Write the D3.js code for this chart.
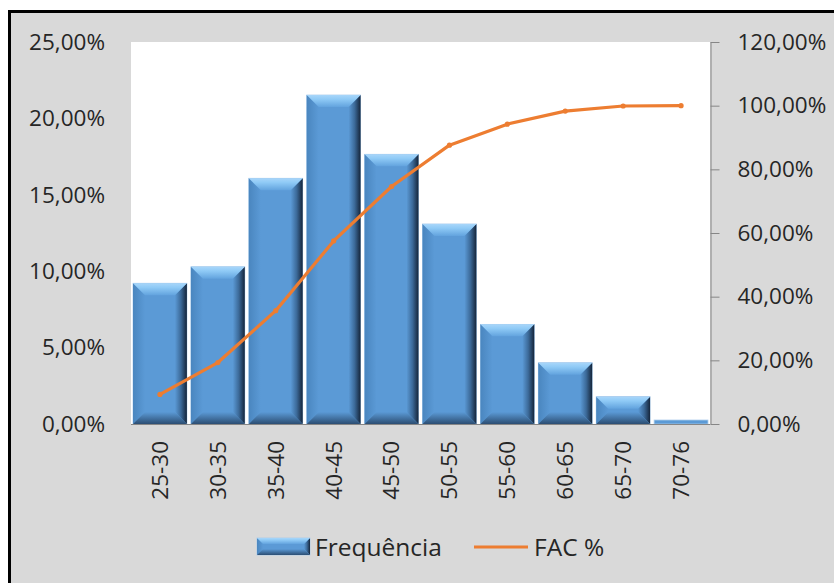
<!DOCTYPE html>
<html><head><meta charset="utf-8">
<script src="https://cdn.jsdelivr.net/npm/d3@7"></script>
<style>html,body{margin:0;padding:0;background:#fff;}svg{display:block;}</style>
</head><body>
<svg id="c" width="834" height="583"></svg>
<script>
const categories = ['25-30','30-35','35-40','40-45','45-50','50-55','55-60','60-65','65-70','70-76'];
const frequencia = [9.21, 10.29, 16.08, 21.53, 17.65, 13.09, 6.52, 4.01, 1.79, 0.26];
const facPct = [9.3, 19.3, 35.6, 57.5, 74.6, 87.6, 94.2, 98.3, 99.9, 100.0];
const leftTicks = [0, 5, 10, 15, 20, 25];
const rightTicks = [0, 20, 40, 60, 80, 100, 120];
const seriesNames = ['Frequência', 'FAC %'];

const svg = d3.select('#c');
const FONT = "'Open Sans', sans-serif";
const TXT = '#262626';
const W = 834, H = 583;
const P = {l: 131, r: 710, t: 42, b: 424};

// defs / gradients
const defs = svg.append('defs');
function lg(id, x2, y2, stops){
  const g = defs.append('linearGradient').attr('id', id).attr('x1',0).attr('y1',0).attr('x2',x2).attr('y2',y2);
  stops.forEach(s => g.append('stop').attr('offset', s[0]).attr('stop-color', s[1]));
}
lg('gTop', 0, 1, [[0,'#a8d6fa'],[0.35,'#8fcaf6'],[1,'#62a3de']]);
lg('gLeft', 1, 0, [[0,'#4a86bf'],[1,'#5b9ad6']]);
lg('gRight', 1, 0, [[0,'#5b9ad6'],[0.5,'#3c6a99'],[1,'#15253a']]);
lg('gBot', 0, 1, [[0,'#5b9ad6'],[1,'#2c4e73']]);

// background frame
svg.append('rect').attr('x', 9.5).attr('y', 11.5).attr('width', W + 20).attr('height', H + 20)
  .attr('fill', '#d9d9d9').attr('stroke', '#000').attr('stroke-width', 3);
svg.append('rect').attr('x', P.l).attr('y', P.t).attr('width', P.r - P.l).attr('height', P.b - P.t).attr('fill', '#fff');

const x = d3.scaleBand().domain(categories).range([P.l, P.r]).paddingInner(0.07).paddingOuter(0.035);
const yL = d3.scaleLinear().domain([0, 25]).range([P.b, P.t]);
const yR = d3.scaleLinear().domain([0, 120]).range([P.b, P.t]);
const fmt = d => d.toFixed(2).replace('.', ',') + '%';

function bevelBar(g, bx, by, bw, bh, bmax){
  g.append('rect').attr('x', bx).attr('y', by).attr('width', bw).attr('height', bh)
    .attr('fill', '#5b9ad6').attr('stroke', '#a9cbeb').attr('stroke-width', 0.8);
  const b = Math.min(bmax, bh / 2, bw / 4);
  if (bh < 6) return;
  const poly = (pts, fill) => g.append('polygon').attr('points', pts.map(p => p.join(',')).join(' ')).attr('fill', fill);
  poly([[bx,by],[bx+b,by+b],[bx+b,by+bh-b],[bx,by+bh]], 'url(#gLeft)');
  poly([[bx+bw,by],[bx+bw,by+bh],[bx+bw-b,by+bh-b],[bx+bw-b,by+b]], 'url(#gRight)');
  poly([[bx,by+bh],[bx+bw,by+bh],[bx+bw-b,by+bh-b],[bx+b,by+bh-b]], 'url(#gBot)');
  poly([[bx,by],[bx+bw,by],[bx+bw-b,by+b],[bx+b,by+b]], 'url(#gTop)');
}

// bars
const barsG = svg.append('g');
categories.forEach((c, i) => {
  const v = frequencia[i];
  const gg = barsG.append('g');
  bevelBar(gg, x(c), yL(v), x.bandwidth(), yL(0) - yL(v), 12);
});

// bottom axis line
svg.append('line').attr('x1', P.l).attr('x2', P.r).attr('y1', P.b + 0.5).attr('y2', P.b + 0.5)
  .attr('stroke', '#868686').attr('stroke-width', 1);

// left axis
const ax = svg.append('g').attr('transform', `translate(${P.l},0)`)
  .call(d3.axisLeft(yL).tickValues(leftTicks).tickFormat(fmt).tickSize(0).tickPadding(26));
ax.select('.domain').remove();
ax.selectAll('text').attr('font-family', FONT).attr('font-size', 22.5).attr('fill', TXT);

// right axis
const ar = svg.append('g').attr('transform', `translate(${P.r + 0.5},0)`)
  .call(d3.axisRight(yR).tickValues(rightTicks).tickFormat(fmt).tickSize(9).tickSizeOuter(0).tickPadding(18));
ar.select('.domain').attr('stroke', '#868686');
ar.selectAll('.tick line').attr('stroke', '#868686');
ar.selectAll('text').attr('font-family', FONT).attr('font-size', 22.5).attr('fill', TXT);

// x axis labels
const axb = svg.append('g').attr('transform', `translate(0,${P.b})`)
  .call(d3.axisBottom(x).tickSize(0).tickPadding(0));
axb.select('.domain').remove();
axb.selectAll('text').attr('font-family', FONT).attr('font-size', 22.5).attr('fill', TXT)
  .attr('transform', 'rotate(-90)').attr('text-anchor', 'end')
  .attr('x', -17).attr('y', 0).attr('dy', '0.35em');

// line
const lineGen = d3.line().x((d, i) => x(categories[i]) + x.bandwidth() / 2).y(d => yR(d));
svg.append('path').datum(facPct).attr('d', lineGen).attr('fill', 'none')
  .attr('stroke', '#ed7d31').attr('stroke-width', 3.2).attr('stroke-linejoin', 'round').attr('stroke-linecap', 'round');
svg.append('g').selectAll('circle').data(facPct).join('circle')
  .attr('cx', (d, i) => x(categories[i]) + x.bandwidth() / 2).attr('cy', d => yR(d))
  .attr('r', 2.6).attr('fill', '#ed7d31');

// legend
const lgG = svg.append('g');
bevelBar(lgG, 257, 538, 53, 17, 6);
lgG.append('text').attr('x', 315).attr('y', 547).attr('dy', '0.35em').text(seriesNames[0])
  .attr('font-family', FONT).attr('font-size', 24.5).attr('fill', TXT);
lgG.append('line').attr('x1', 474).attr('x2', 528).attr('y1', 547).attr('y2', 547)
  .attr('stroke', '#ed7d31').attr('stroke-width', 3.2);
lgG.append('text').attr('x', 534).attr('y', 547).attr('dy', '0.35em').text(seriesNames[1])
  .attr('font-family', FONT).attr('font-size', 24.5).attr('fill', TXT);
</script>
</body></html>
